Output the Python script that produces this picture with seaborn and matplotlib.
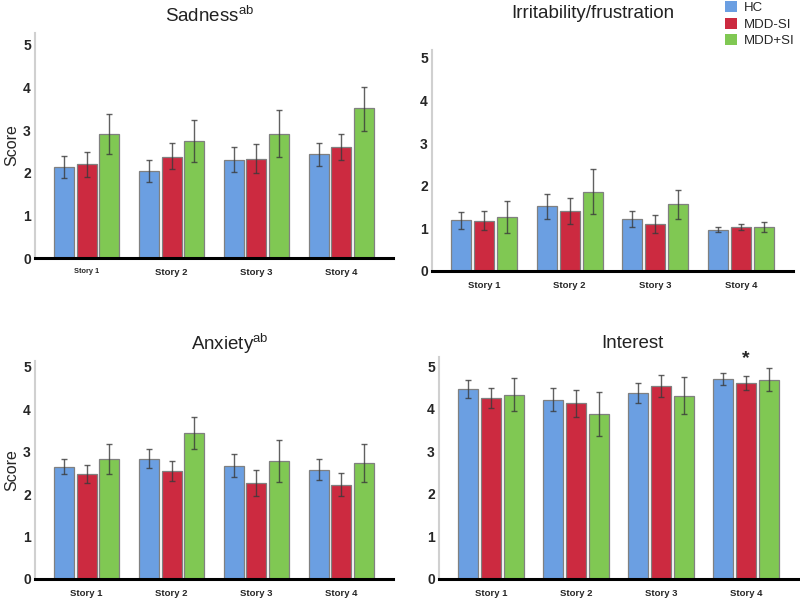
import numpy as np
import pandas as pd
import matplotlib
matplotlib.use("Agg")
import matplotlib.pyplot as plt
from matplotlib.patches import Patch
import seaborn as sns

stories = ["Story 1", "Story 2", "Story 3", "Story 4"]
groups = ["HC", "MDD-SI", "MDD+SI"]
colors = ["#6B9FE2", "#CC2A40", "#80C853"]

# mean values per group (rows = groups, cols = stories)
sad_mean = [[2.13, 2.05, 2.30, 2.43], [2.20, 2.38, 2.33, 2.61], [2.90, 2.75, 2.92, 3.51]]
sad_lo = [[1.88, 1.79, 2.01, 2.15], [1.90, 2.10, 2.00, 2.29], [2.43, 2.26, 2.37, 2.99]]
sad_hi = [[2.39, 2.31, 2.60, 2.70], [2.48, 2.69, 2.67, 2.92], [3.37, 3.25, 3.48, 4.01]]

irr_mean = [[1.19, 1.52, 1.21, 0.97], [1.17, 1.40, 1.11, 1.02], [1.26, 1.86, 1.57, 1.03]]
irr_lo = [[0.98, 1.23, 1.03, 0.91], [0.95, 1.09, 0.90, 0.96], [0.88, 1.34, 1.22, 0.92]]
irr_hi = [[1.39, 1.80, 1.40, 1.02], [1.41, 1.71, 1.32, 1.09], [1.64, 2.38, 1.91, 1.15]]

anx_mean = [[2.64, 2.83, 2.67, 2.57], [2.47, 2.54, 2.26, 2.21], [2.83, 3.44, 2.78, 2.72]]
anx_lo = [[2.46, 2.62, 2.40, 2.33], [2.26, 2.31, 1.96, 1.95], [2.47, 3.05, 2.28, 2.28]]
anx_hi = [[2.82, 3.05, 2.94, 2.82], [2.68, 2.78, 2.57, 2.49], [3.17, 3.82, 3.27, 3.17]]

int_mean = [[4.47, 4.22, 4.37, 4.70], [4.26, 4.13, 4.54, 4.61], [4.33, 3.88, 4.31, 4.69]]
int_lo = [[4.26, 3.95, 4.14, 4.56], [4.03, 3.82, 4.27, 4.45], [3.94, 3.36, 3.89, 4.42]]
int_hi = [[4.69, 4.50, 4.60, 4.84], [4.48, 4.44, 4.80, 4.78], [4.72, 4.39, 4.74, 4.96]]

yticks = [0, 1, 2, 3, 4, 5]

sns.set_theme(style="white")
plt.rcParams["font.family"] = ["Liberation Sans", "DejaVu Sans"]
plt.rcParams["mathtext.fontset"] = "custom"
plt.rcParams["mathtext.rm"] = "Liberation Sans"

fig = plt.figure(figsize=(8.0, 5.99), dpi=100)
W, H = 800, 599


def px_axes(l, r, b, t):
    return fig.add_axes([l / W, 1 - b / H, (r - l) / W, (b - t) / H])


panels = [
    dict(box=(35, 393, 258, 33), ytop=5.28, mean=sad_mean, lo=sad_lo, hi=sad_hi,
         title="Sadness$^{\\mathrm{ab}}$", tpos=(210, 16), ylabel=True, small_first=True),
    dict(box=(432, 793, 271, 50), ytop=5.18, mean=irr_mean, lo=irr_lo, hi=irr_hi,
         title="Irritability/frustration", tpos=(593, 13), ylabel=False, small_first=False),
    dict(box=(35, 393, 579, 361), ytop=5.13, mean=anx_mean, lo=anx_lo, hi=anx_hi,
         title="Anxiety$^{\\mathrm{ab}}$", tpos=(230, 344), ylabel=True, small_first=False),
    dict(box=(439, 798, 579, 357), ytop=5.22, mean=int_mean, lo=int_lo, hi=int_hi,
         title="Interest", tpos=(632, 344), ylabel=False, small_first=False),
]

for p in panels:
    l, r, b, t = p["box"]
    ax = px_axes(l, r, b, t)
    rows = []
    for gi, g in enumerate(groups):
        for si, s in enumerate(stories):
            rows.append(dict(story=s, group=g, score=p["mean"][gi][si],
                             lo=p["lo"][gi][si], hi=p["hi"][gi][si]))
    df = pd.DataFrame(rows)
    sns.barplot(data=df, x="story", y="score", hue="group", hue_order=groups,
                order=stories, palette=colors, saturation=1, width=0.8, gap=0.12,
                errorbar=None, edgecolor="#808080", linewidth=0.9, legend=False, ax=ax)
    bars = [pt for pt in ax.patches]
    for gi in range(len(groups)):
        for si in range(len(stories)):
            bar = bars[gi * len(stories) + si]
            xc = bar.get_x() + bar.get_width() / 2
            m = p["mean"][gi][si]
            ax.errorbar(xc, m, yerr=[[m - p["lo"][gi][si]], [p["hi"][gi][si] - m]],
                        fmt="none", ecolor="#3a3a3a", elinewidth=1.0, capsize=2.5,
                        capthick=1.0, alpha=0.8, zorder=5)
    ax.set_ylim(0, p["ytop"])
    ax.set_xlim(-0.61, 3.61)
    ax.set_yticks(yticks)
    ax.set_yticklabels([str(v) for v in yticks], fontsize=10, fontweight="bold")
    ax.tick_params(axis="both", length=0)
    ax.tick_params(axis="y", pad=3)
    ax.tick_params(axis="x", pad=7)
    for lab in ax.get_xticklabels():
        lab.set_fontsize(6.8)
        lab.set_fontweight("bold")
    if p["small_first"]:
        ax.get_xticklabels()[0].set_fontsize(5.3)
    ax.set_xlabel("")
    if p["ylabel"]:
        ax.set_ylabel("Score", fontsize=11.5, labelpad=3)
    else:
        ax.set_ylabel("")
    for side in ["top", "right"]:
        ax.spines[side].set_visible(False)
    ax.spines["left"].set_color("#d0d0d0")
    ax.spines["left"].set_linewidth(1.5)
    ax.spines["bottom"].set_color("black")
    ax.spines["bottom"].set_linewidth(2.2)
    ax.spines["bottom"].set_zorder(6)
    fig.text(p["tpos"][0] / W, 1 - p["tpos"][1] / H, p["title"], fontsize=13.5,
             ha="center", va="center", color="#222222")
    if p["title"] == "Interest":
        ax.text(3, 5.18, "*", ha="center", va="center", fontsize=14,
                fontweight="bold", clip_on=False)

handles = [Patch(facecolor=c, edgecolor="none") for c in colors]
fig.legend(handles, groups, loc="upper left", bbox_to_anchor=(724 / W, 1.0),
           frameon=False, fontsize=9.5, handlelength=0.9, handleheight=0.9,
           handletextpad=0.5, labelspacing=0.25, borderpad=0.1, borderaxespad=0.0)

fig.savefig("out.png", dpi=100)
